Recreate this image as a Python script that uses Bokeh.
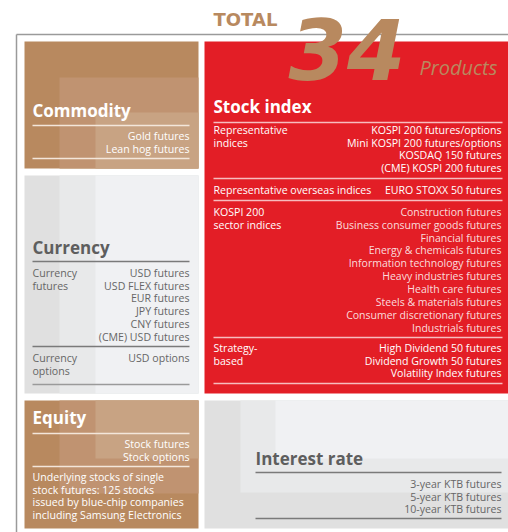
from bokeh.plotting import figure
from bokeh.models import Range1d, ColumnDataSource
from bokeh.core.properties import value
from bokeh.embed import file_html
from bokeh.resources import INLINE

# ---------------- data ----------------
total_label = "TOTAL"
total_count = ["34"]
total_unit = "Products"

commodity_title = "Commodity"
commodity_items = ["Gold futures", "Lean hog futures"]

currency_title = "Currency"
currency_futures_label = ["Currency", "futures"]
currency_futures = ["USD futures", "USD FLEX futures", "EUR futures",
                    "JPY futures", "CNY futures", "(CME) USD futures"]
currency_options_label = ["Currency", "options"]
currency_options = ["USD options"]

stock_title = "Stock index"
stock_rep_label = ["Representative", "indices"]
stock_rep = ["KOSPI 200 futures/options", "Mini KOSPI 200 futures/options",
             "KOSDAQ 150 futures", "(CME) KOSPI 200 futures"]
stock_overseas_label = ["Representative overseas indices"]
stock_overseas = ["EURO STOXX 50 futures"]
stock_sector_label = ["KOSPI 200", "sector indices"]
stock_sector = ["Construction futures", "Business consumer goods futures",
                "Financial futures", "Energy & chemicals futures",
                "Information technology futures", "Heavy industries futures",
                "Health care futures", "Steels & materials futures",
                "Consumer discretionary futures", "Industrials futures"]
stock_strategy_label = ["Strategy-", "based"]
stock_strategy = ["High Dividend 50 futures", "Dividend Growth 50 futures",
                  "Volatility Index futures"]

equity_title = "Equity"
equity_items = ["Stock futures", "Stock options"]
equity_note = ["Underlying stocks of single", "stock futures: 125 stocks",
               "issued by blue-chip companies", "including Samsung Electronics"]

interest_title = "Interest rate"
interest_items = ["3-year KTB futures", "5-year KTB futures", "10-year KTB futures"]

# ---------------- style ----------------
FONT = value("Open Sans")
BROWN = "#b8895f"
BROWN_MID = "#c09371"
BROWN_LIGHT = "#c8a383"
RED = "#e31e26"
G0, G1, G2 = "#e0e0e0", "#e8e9ea", "#f0f1f3"
GRAY_TXT = "#666666"
ROW = 12.9
ITEM_PX = 10.6
TITLE_PX = 17
SHIFT = 0.36  # baseline correction, fraction of font size

p = figure(width=508, height=532, x_range=Range1d(0, 508), y_range=Range1d(532, 0),
           x_axis_type=None, y_axis_type=None, output_backend="svg",
           toolbar_location=None, min_border=0)
p.grid.visible = False
p.outline_line_color = None
p.background_fill_color = "white"


def box(l, r, t, b, color):
    p.quad(left=[l], right=[r], top=[t], bottom=[b], fill_color=color, line_color=None)


def rule(x0, x1, y, color, width=1.3, alpha=1.0):
    p.segment(x0=[x0], y0=[y], x1=[x1], y1=[y], line_color=color, line_width=width,
              line_alpha=alpha)


def lines(x, y0, items, align, color, px=ITEM_PX, style="normal", alpha=1.0,
          font=FONT, shift=SHIFT):
    src = ColumnDataSource(dict(x=[x] * len(items),
                                y=[y0 - shift * px + i * ROW for i in range(len(items))],
                                t=items))
    p.text(x="x", y="y", text="t", source=src, text_font=font,
           text_font_size=f"{px}px", text_align=align, text_baseline="alphabetic",
           text_color=color, text_font_style=style, text_alpha=alpha)


# frame
p.segment(x0=[16, 16], y0=[34, 34], x1=[508, 16], y1=[34, 532],
          line_color="#9a9a9a", line_width=1.5)

# ---- Commodity ----
box(24, 198, 41, 168, BROWN)
box(59, 198, 77, 168, BROWN_MID)
box(95, 198, 112, 168, BROWN_LIGHT)
lines(32, 116, [commodity_title], "left", "white", TITLE_PX, "bold")
rule(32, 189, 125, "#f3e6da")
lines(189, 139, commodity_items, "right", "white")
rule(32, 189, 158, "#f3e6da")

# ---- Currency ----
box(24, 198, 175, 393, G0)
box(59, 198, 175, 393, G1)
box(95, 198, 175, 393, G2)
lines(32, 253, [currency_title], "left", "#5e5e5e", TITLE_PX, "bold")
rule(32, 189, 261, "#7a7a7a")
lines(32, 276, currency_futures_label, "left", GRAY_TXT)
lines(189, 276, currency_futures, "right", GRAY_TXT)
rule(32, 189, 346, "#7a7a7a")
lines(32, 361, currency_options_label, "left", GRAY_TXT)
lines(189, 361, currency_options, "right", GRAY_TXT)
rule(32, 189, 384, "#9a9a9a")

# ---- Stock index ----
box(204, 508, 41, 393, RED)
lines(213, 112, [stock_title], "left", "white", TITLE_PX, "bold")
rule(213, 502, 122, "white", alpha=0.7)
lines(213, 133, stock_rep_label, "left", "white")
lines(501, 133, stock_rep, "right", "white")
rule(213, 502, 178, "white", alpha=0.7)
lines(213, 193, stock_overseas_label, "left", "white")
lines(501, 193, stock_overseas, "right", "white")
rule(213, 502, 200, "white", alpha=0.7)
lines(213, 215, stock_sector_label, "left", "white")
lines(501, 215, stock_sector, "right", "white", px=10.5, alpha=0.85)
rule(213, 502, 337, "white", alpha=0.7)
lines(213, 351, stock_strategy_label, "left", "white")
lines(501, 351, stock_strategy, "right", "white")
rule(213, 502, 383, "white", alpha=0.7)

# ---- Equity ----
box(24, 198, 400, 528, BROWN)
box(59, 198, 400, 493, BROWN_MID)
box(95, 198, 400, 458, BROWN_LIGHT)
lines(32, 423, [equity_title], "left", "white", TITLE_PX, "bold")
rule(32, 189, 433, "#f3e6da")
lines(189, 447, equity_items, "right", "white")
rule(32, 189, 466, "#f3e6da")
lines(32, 480, equity_note, "left", "white")

# ---- Interest rate ----
box(204, 508, 400, 528, G0)
box(240, 508, 400, 492, G1)
box(275, 508, 400, 458, G2)
lines(255, 464, [interest_title], "left", "#5e5e5e", TITLE_PX, "bold")
rule(255, 501, 472, "#7a7a7a")
lines(501, 487, interest_items, "right", GRAY_TXT)
rule(255, 501, 518, "#7a7a7a")

# ---- header ----
lines(213, 25, [total_label], "left", BROWN, 18, "bold", font=value("DejaVu Sans"))
lines(288, 79, total_count, "left", BROWN, 84, "bold italic",
      font=value("DejaVu Sans"))
lines(419, 74, [total_unit], "left", BROWN, 20, "italic")

open("out.html", "w").write(file_html(p, INLINE))
